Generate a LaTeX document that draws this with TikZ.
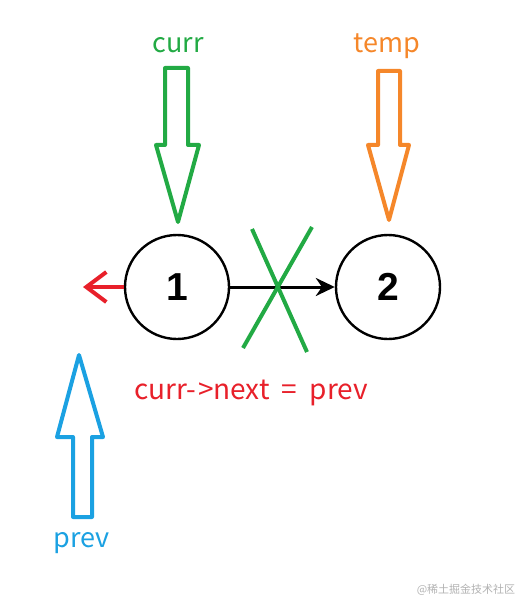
\documentclass[tikz,border=0pt]{standalone}
\usepackage{fontspec}
\setmainfont{Noto Sans CJK SC}
\newfontfamily\numfont{Liberation Sans}
\usetikzlibrary{arrows.meta, positioning}

\definecolor{currgreen}{HTML}{22AA44}
\definecolor{temporange}{HTML}{F5872A}
\definecolor{prevblue}{HTML}{1BA1E2}
\definecolor{linkred}{HTML}{E8202A}

\tikzset{
  listnode/.style={circle, draw, line width=2.4pt, minimum size=104pt, inner sep=0pt,
    font=\numfont\fontsize{39}{39}\selectfont\bfseries},
  ptrlabel/.style={font=\fontsize{27}{27}\selectfont},
  blockarrow/.style={line width=4pt, line join=round, fill=white}
}

\begin{document}
\begin{tikzpicture}[x=1pt, y=-1pt]
    \useasboundingbox (0,0) rectangle (517,604);

    % List nodes
    \node[listnode] (n1) at (177,287) {1};
    \node[listnode] (n2) at (388,287) {2};

    % Old link 1 -> 2
    \draw[line width=3pt, -{Stealth[length=19pt, width=18pt]}] (n1) -- (n2);

    % Crossed out
    \draw[currgreen, line width=4pt] (252,229) -- (307,352);
    \draw[currgreen, line width=4pt] (312,227) -- (243,348);

    % New link 1 -> prev
    \coordinate (nul) at (83,287);
    \draw[linkred, line width=4pt, -{Straight Barb[length=20pt, width=30pt, line width=4pt]}] (n1) -- (nul);

    % curr pointer
    \draw[currgreen, blockarrow] (165,68) -- (188,68) -- (188,145) -- (199,145) -- (178,222)
        -- (156,145) -- (165,145) -- cycle;
    \node[ptrlabel, text=currgreen] (curr) at (178,45) {curr};

    % temp pointer
    \draw[temporange, blockarrow] (378,71) -- (400,71) -- (400,145) -- (409,145) -- (389,220)
        -- (368,145) -- (378,145) -- cycle;
    \node[ptrlabel, text=temporange] (temp) at (387,46) {temp};

    % prev pointer
    \draw[prevblue, blockarrow] (79,355) -- (103,437) -- (92,437) -- (92,517) -- (73,517)
        -- (73,437) -- (57,437) -- cycle;
    \node[ptrlabel, text=prevblue] (prev) at (82,543) {prev};

    % Statement
    \node[text=linkred, font=\fontsize{28}{28}\selectfont] (stmt) at (251,393)
        {curr-\hspace{2pt}>next\hspace{6pt} =\hspace{6pt} prev};

    % Watermark
    \node[text=black!30, font=\fontsize{11}{11}\selectfont] (mark) at (466,590) {@稀土掘金技术社区};
\end{tikzpicture}
\end{document}
